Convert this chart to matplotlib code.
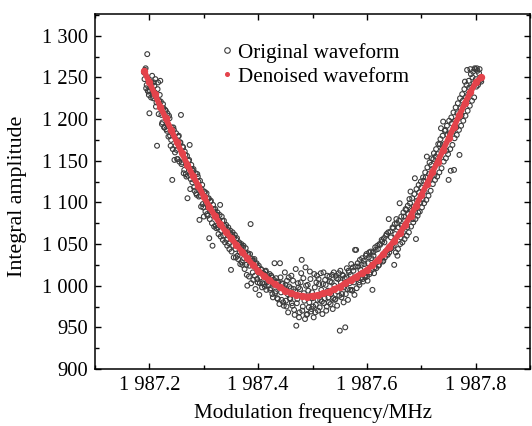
import numpy as np
import matplotlib
matplotlib.use("Agg")
import matplotlib.pyplot as plt
from matplotlib.lines import Line2D
from matplotlib.ticker import MultipleLocator, FuncFormatter

# ---- data ----
sweep_start = 1987.19
sweep_step = 0.002
# readings on the even sweep positions (1987.190, 1987.192, ...)
orig_y_a = [
    1256, 1259, 1237, 1278, 1233,
    1207, 1245, 1243, 1228, 1244,
    1232, 1215, 1168, 1244, 1222,
    1246, 1205, 1196, 1213, 1190,
    1210, 1186, 1192, 1204, 1180,
    1175, 1127, 1190, 1151, 1168,
    1163, 1152, 1180, 1172, 1205,
    1148, 1166, 1139, 1157, 1131,
    1105, 1150, 1169, 1128, 1140,
    1138, 1118, 1126, 1111, 1134,
    1125, 1079, 1108, 1116, 1098,
    1083, 1112, 1099, 1086, 1104,
    1057, 1101, 1088, 1048, 1092,
    1089, 1072, 1085, 1070, 1079,
    1097, 1066, 1078, 1060, 1072,
    1070, 1055, 1067, 1051, 1063,
    1019, 1061, 1048, 1058, 1044,
    1055, 1036, 1050, 1040, 1047,
    1028, 1046, 1033, 1040, 1025,
    1000, 1037, 1024, 1074, 1030,
    1016, 1030, 1012, 1026, 1008,
    1022, 989, 1010, 1019, 1003,
    1015, 999, 1018, 1004, 1011,
    1006, 995, 1012, 990, 1003,
    1027, 993, 1005, 984, 999,
    1027, 992, 1003, 980, 997,
    1001, 975, 990, 1010, 985,
    997, 979, 1006, 971, 993,
    952, 984, 998, 968, 1004,
    1031, 975, 991, 960, 1000,
    966, 994, 980, 1008, 972,
    985, 962, 998, 977, 1012,
    970, 1002, 983, 995, 966,
    1016, 985, 1001, 975, 994,
    980, 1005, 990, 1013, 985,
    1000, 984, 1009, 993, 1015,
    946, 1004, 990, 1012, 998,
    950, 1010, 996, 1018, 1003,
    1013, 995, 1022, 1004, 1043,
    1043, 1008, 1023, 1001, 1019,
    1025, 1008, 1030, 1012, 1036,
    1011, 1027, 1040, 1016, 1033,
    995, 1036, 1022, 1043, 1028,
    1044, 1025, 1049, 1033, 1053,
    1030, 1052, 1041, 1062, 1037,
    1080, 1044, 1058, 1049, 1069,
    1025, 1062, 1080, 1036, 1070,
    1099, 1058, 1072, 1064, 1083,
    1078, 1091, 1070, 1086, 1104,
    1113, 1090, 1080, 1095, 1129,
    1056, 1102, 1088, 1112, 1100,
    1118, 1104, 1126, 1113, 1130,
    1155, 1121, 1134, 1128, 1145,
    1140, 1152, 1133, 1155, 1146,
    1158, 1150, 1170, 1189, 1164,
    1197, 1170, 1187, 1162, 1181,
    1127, 1183, 1138, 1195, 1185,
    1139, 1198, 1190, 1207, 1201,
    1157, 1213, 1205, 1222, 1216,
    1245, 1226, 1259, 1230, 1238,
    1260, 1238, 1250, 1243, 1261,
    1248, 1261, 1241, 1255, 1250,
    1245,
]
# readings on the odd sweep positions (1987.191, 1987.193, ...)
orig_y_b = [
    1248, 1261, 1241, 1234, 1229,
    1234, 1226, 1252, 1225, 1240,
    1248, 1220, 1236, 1206, 1229,
    1221, 1194, 1218, 1190, 1211,
    1188, 1207, 1179, 1201, 1168,
    1190, 1164, 1187, 1160, 1183,
    1152, 1179, 1149, 1172, 1146,
    1167, 1135, 1161, 1134, 1156,
    1132, 1151, 1116, 1145, 1124,
    1140, 1114, 1135, 1109, 1131,
    1107, 1126, 1095, 1121, 1094,
    1113, 1089, 1111, 1084, 1105,
    1080, 1102, 1075, 1097, 1071,
    1092, 1069, 1088, 1062, 1085,
    1059, 1083, 1055, 1078, 1052,
    1073, 1048, 1070, 1044, 1066,
    1041, 1064, 1034, 1061, 1034,
    1057, 1032, 1052, 1026, 1050,
    1025, 1048, 1020, 1045, 1013,
    1039, 1011, 1038, 1003, 1032,
    1007, 1032, 996, 1027, 1004,
    1024, 1003, 1020, 998, 1015,
    1002, 1017, 995, 1013, 1000,
    1014, 997, 1010, 986, 1007,
    991, 1009, 985, 1004, 978,
    1010, 983, 1002, 976, 1016,
    982, 1006, 968, 999, 984,
    1012, 976, 996, 965, 1020,
    979, 1003, 962, 996, 1015,
    970, 1009, 982, 1022, 965,
    1001, 974, 1017, 969, 992,
    975, 1014, 968, 1004, 983,
    1008, 974, 1015, 981, 1002,
    979, 1007, 970, 1012, 986,
    1011, 978, 1004, 972, 1016,
    983, 1012, 976, 1008, 988,
    1018, 986, 1013, 980, 1009,
    990, 1021, 983, 1016, 995,
    1026, 994, 1018, 989, 1023,
    997, 1027, 1004, 1031, 1009,
    1033, 1005, 1026, 1010, 1038,
    1006, 1034, 1014, 1041, 1019,
    1040, 1015, 1046, 1021, 1048,
    1024, 1050, 1030, 1055, 1029,
    1057, 1034, 1060, 1038, 1064,
    1040, 1065, 1045, 1070, 1048,
    1074, 1040, 1075, 1044, 1078,
    1050, 1083, 1052, 1088, 1056,
    1092, 1060, 1096, 1064, 1099,
    1071, 1105, 1076, 1110, 1080,
    1116, 1084, 1121, 1089, 1125,
    1094, 1130, 1099, 1136, 1103,
    1142, 1108, 1148, 1114, 1153,
    1122, 1159, 1127, 1164, 1131,
    1170, 1136, 1176, 1141, 1180,
    1149, 1186, 1153, 1192, 1158,
    1198, 1164, 1202, 1169, 1208,
    1177, 1214, 1181, 1219, 1187,
    1225, 1192, 1230, 1198, 1236,
    1204, 1241, 1210, 1246, 1216,
    1254, 1222, 1257, 1226, 1260,
    1239, 1258, 1244, 1260, 1247,
]
orig_x_a = np.round(sweep_start + sweep_step * np.arange(len(orig_y_a)), 3)
orig_x_b = np.round(sweep_start + 0.001 + sweep_step * np.arange(len(orig_y_b)), 3)
orig_x = np.concatenate([orig_x_a, orig_x_b])
orig_y = np.concatenate([orig_y_a, orig_y_b])

den_step = 0.01
den_y = [
    1258, 1244, 1230, 1215, 1201, 1187, 1173, 1159, 1145, 1132,
    1120, 1107, 1095, 1084, 1074, 1065, 1057, 1049, 1041, 1033,
    1025, 1018, 1012, 1007, 1002, 998, 994, 991, 989, 988,
    987, 988, 989, 991, 993, 996, 999, 1003, 1007, 1011,
    1015, 1019, 1025, 1031, 1038, 1046, 1054, 1063, 1073, 1084,
    1096, 1109, 1122, 1136, 1149, 1163, 1177, 1191, 1205, 1219,
    1232, 1244, 1250,
]
den_x = np.round(sweep_start + den_step * np.arange(len(den_y)), 3)

xlim = (1987.1, 1987.9)
ylim = (900, 1326)
xticks = [1987.2, 1987.4, 1987.6, 1987.8]
yticks = [900, 950, 1000, 1050, 1100, 1150, 1200, 1250, 1300]

# ---- style ----
plt.rcParams['font.family'] = ['Liberation Serif', 'DejaVu Serif']

fig = plt.figure(figsize=(5.32, 4.26), dpi=100)
ax = fig.add_axes([0.1786, 0.1338, 0.818, 0.833])

red = '#e4434b'
gray = '#3c3c3c'

ax.scatter(orig_x, orig_y, s=12, facecolors='none', edgecolors=gray,
           linewidths=0.8, zorder=2)
ax.plot(den_x, den_y, color=red, lw=4.0, zorder=3, solid_capstyle='round')
ax.plot(den_x, den_y, 'o', color=red, ms=4.3, zorder=3)

ax.set_xlim(*xlim)
ax.set_ylim(*ylim)
ax.set_xticks(xticks)
ax.set_yticks(yticks)
ax.xaxis.set_minor_locator(MultipleLocator(0.1))
ax.yaxis.set_minor_locator(MultipleLocator(25))


def fmt_y(v, pos):
    s = f"{int(round(v))}"
    if len(s) > 3:
        s = s[:-3] + ' ' + s[-3:]
    return s


def fmt_x(v, pos):
    s = f"{v:.1f}"
    ip, fp = s.split('.')
    if len(ip) > 3:
        ip = ip[:-3] + ' ' + ip[-3:]
    return ip + '.' + fp


ax.yaxis.set_major_formatter(FuncFormatter(fmt_y))
ax.xaxis.set_major_formatter(FuncFormatter(fmt_x))

ax.tick_params(axis='both', which='both', direction='in', top=True, right=True,
               labelsize=14.8, pad=5)
ax.tick_params(axis='both', which='major', length=4, width=1)
ax.tick_params(axis='both', which='minor', length=3, width=1)
for sp in ax.spines.values():
    sp.set_linewidth(1.1)

ax.set_xlabel('Modulation frequency/MHz', fontsize=15.2, labelpad=6)
ax.set_ylabel('Integral amplitude', fontsize=15.8)
ax.yaxis.set_label_coords(-0.157, 0.486)

handles = [
    Line2D([], [], ls='none', marker='o', ms=4, mfc='none', mec=gray, mew=0.8),
    Line2D([], [], ls='none', marker='o', ms=2.6, color=red),
]
ax.legend(handles, ['Original waveform', 'Denoised waveform'],
          loc='upper left', bbox_to_anchor=(0.265, 0.955), frameon=False,
          fontsize=15.2, handlelength=0.4, handletextpad=0.3,
          labelspacing=0.2, borderaxespad=0.2)

fig.savefig('out.png', dpi=100)
